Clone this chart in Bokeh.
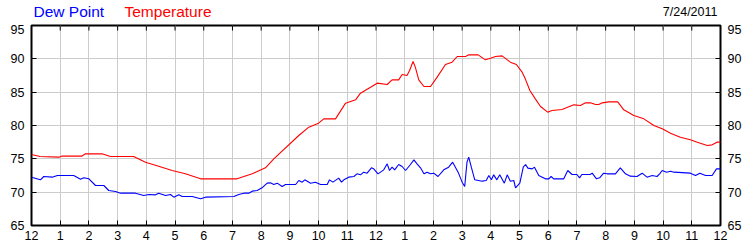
import math
from bokeh.plotting import figure
from bokeh.models import FixedTicker, LinearAxis, Label, ColumnDataSource
from bokeh.layouts import column
from bokeh.embed import file_html
from bokeh.resources import INLINE

# ---- data (hours after midnight, degrees F) ----
temp_hours = [0.0, 0.3, 0.95, 1.05, 1.75, 1.88, 2.46, 2.75, 3.56, 3.97, 4.43, 4.9, 5.36, 5.89,
              7.16, 7.69, 8.15, 8.44, 9.31, 9.66, 10.0, 10.18, 10.59, 10.94, 11.29, 11.46, 11.81,
              12.04, 12.39, 12.56, 12.79, 12.91, 13.08, 13.17, 13.29, 13.37, 13.49, 13.67, 13.9,
              14.13, 14.42, 14.65, 14.83, 15.12, 15.23, 15.56, 15.81, 15.99, 16.16, 16.39, 16.68,
              16.89, 17.09, 17.2, 17.36, 17.55, 17.73, 17.98, 18.13, 18.48, 18.89, 19.12, 19.3,
              19.47, 19.65, 19.76, 19.88, 20.11, 20.42, 20.63, 20.98, 21.33, 21.68, 21.97, 22.26,
              22.6, 22.95, 23.19, 23.54, 23.71, 23.88, 24.0]
temp_values = [75.65, 75.35, 75.25, 75.4, 75.4, 75.75, 75.75, 75.35, 75.35, 74.5, 73.9, 73.25, 72.75, 72.0,
               72.0, 72.75, 73.65, 75.0, 78.5, 79.75, 80.35, 81.0, 81.0, 83.35, 83.85, 84.85, 85.75,
               86.35, 86.15, 86.85, 86.85, 87.65, 87.5, 88.25, 89.6, 88.75, 86.85, 85.85, 85.85,
               87.25, 89.15, 89.5, 90.35, 90.35, 90.6, 90.6, 89.85, 90.1, 90.35, 90.45, 89.5,
               89.15, 88.0, 87.0, 85.25, 84.0, 82.85, 82.0, 82.25, 82.4, 83.1, 83.0, 83.4,
               83.4, 83.15, 83.15, 83.4, 83.55, 83.55, 82.35, 81.5, 81.0, 80.0, 79.5, 78.85,
               78.25, 77.85, 77.5, 77.0, 77.1, 77.5, 77.5]

dew_hours = [0.0, 0.31, 0.43, 0.72, 0.9, 1.47, 1.71, 1.82, 2.0, 2.23, 2.52, 2.69, 2.93, 3.1, 3.62,
             3.91, 4.09, 4.32, 4.43, 4.67, 4.84, 4.96, 5.13, 5.25, 5.6, 5.89, 6.06, 7.05, 7.22, 7.4,
             7.57, 7.69, 7.86, 8.03, 8.21, 8.32, 8.44, 8.56, 8.73, 8.85, 9.2, 9.31, 9.43, 9.52, 9.72,
             9.89, 10.07, 10.3, 10.38, 10.5, 10.7, 10.8, 10.88, 11.05, 11.23, 11.34, 11.46, 11.57,
             11.69, 11.84, 11.92, 12.07, 12.27, 12.39, 12.47, 12.56, 12.65, 12.79, 12.91, 13.03,
             13.2, 13.32, 13.43, 13.55, 13.67, 13.78, 13.9, 14.01, 14.16, 14.36, 14.53, 14.67,
             14.86, 15.0, 15.09, 15.17, 15.23, 15.32, 15.44, 15.7, 15.84, 15.93, 16.02, 16.1,
             16.21, 16.31, 16.47, 16.57, 16.68, 16.8, 16.86, 17.01, 17.13, 17.21, 17.29, 17.44,
             17.52, 17.67, 17.79, 17.9, 18.02, 18.1, 18.19, 18.54, 18.68, 18.83, 19.0, 19.09,
             19.17, 19.46, 19.53, 19.68, 19.79, 19.93, 20.05, 20.34, 20.51, 20.69, 20.86, 21.09,
             21.27, 21.44, 21.62, 21.79, 21.88, 21.97, 22.12, 22.26, 22.38, 22.95, 23.13, 23.28,
             23.48, 23.71, 23.86, 24.0]
dew_values = [72.25, 71.85, 72.35, 72.25, 72.5, 72.5, 71.95, 72.15, 72.0, 71.0, 71.0, 70.25, 70.1, 69.85, 69.85,
              69.5, 69.65, 69.6, 69.85, 69.5, 69.65, 69.25, 69.6, 69.35, 69.35, 69.0, 69.25, 69.35, 69.65, 69.85,
              69.85, 70.15, 70.25, 70.65, 71.35, 71.4, 71.15, 71.35, 70.85, 71.15, 71.15, 71.75, 71.5, 71.85, 71.35,
              71.5, 71.15, 71.15, 71.85, 71.5, 72.1, 71.5, 71.85, 72.25, 72.35, 72.75, 72.6, 73.0,
              72.85, 73.65, 73.5, 72.75, 73.35, 74.25, 73.25, 73.75, 73.35, 74.15, 73.85, 73.25,
              74.15, 74.85, 74.25, 73.65, 72.75, 73.0, 72.75, 72.85, 72.35, 73.35, 73.75, 74.5,
              73.0, 71.5, 70.85, 74.5, 75.25, 73.75, 71.85, 71.65, 71.75, 72.5, 71.85, 72.6,
              71.85, 72.6, 71.35, 72.6, 71.65, 71.75, 70.65, 71.35, 73.75, 74.15, 73.6, 73.5,
              73.75, 72.5, 72.25, 72.0, 72.0, 72.35, 72.0, 72.0, 73.25, 72.65, 72.65, 72.15,
              72.65, 72.65, 72.85, 72.0, 72.15, 72.85, 72.75, 72.75, 73.65, 72.75, 72.4, 72.35,
              72.85, 72.25, 72.5, 72.35, 72.75, 73.25, 73.0, 73.15, 73.0, 72.85, 72.5, 72.85,
              72.5, 72.5, 73.5, 73.5]

hour_ticks = list(range(25))
hour_labels = ["12", "1", "2", "3", "4", "5", "6", "7", "8", "9", "10", "11",
               "12", "1", "2", "3", "4", "5", "6", "7", "8", "9", "10", "11", "12"]
y_ticks = [65, 70, 75, 80, 85, 90, 95]
y_min, y_max = 65, 95
series_names = ["Dew Point", "Temperature"]
date_text = "7/24/2011"

FONT = "Liberation Sans"
LEFT, RIGHT = 31, 30

# ---- header strip with the coloured legend text and the date ----
# its frame spans the same columns as the chart's frame (page pixels 31..720)
head = figure(width=750, height=24, x_range=(LEFT, 750 - RIGHT), y_range=(24, 0),
              output_backend="svg", toolbar_location=None,
              x_axis_location=None, y_axis_location=None,
              min_border_left=LEFT, min_border_right=RIGHT, min_border_top=0, min_border_bottom=0,
              background_fill_color="white", border_fill_color="white")
head.grid.visible = False
head.outline_line_color = None
head.add_layout(Label(x=33, y=11, text=series_names[0], text_color="#0000ff",
                      text_font=FONT, text_font_size="15.5px", text_baseline="alphabetic"))
head.add_layout(Label(x=124, y=11, text=series_names[1], text_color="#ff0000",
                      text_font=FONT, text_font_size="15.5px", text_baseline="alphabetic"))
head.add_layout(Label(x=717, y=11, text=date_text, text_color="black", text_align="right",
                      text_font=FONT, text_font_size="12.5px", text_baseline="alphabetic"))

# ---- main chart ----
p = figure(width=750, height=226, x_range=(0, 24), y_range=(y_min, y_max),
           output_backend="svg", toolbar_location=None,
           min_border_left=LEFT, min_border_right=RIGHT, min_border_top=1, min_border_bottom=25,
           background_fill_color="white", border_fill_color="white")
p.outline_line_color = "black"
p.outline_line_width = 2
p.outline_line_alpha = 1.0

xt = FixedTicker(ticks=hour_ticks)
yt = FixedTicker(ticks=y_ticks)

p.xgrid.ticker = xt
p.ygrid.ticker = yt
p.xgrid.grid_line_color = "#cccccc"
p.ygrid.grid_line_color = "#cccccc"

overrides = {t: lab for t, lab in zip(hour_ticks, hour_labels)}

def style(ax):
    ax.axis_line_color = None
    ax.major_tick_in = 5
    ax.major_tick_out = 0
    ax.minor_tick_line_color = None
    ax.major_tick_line_color = "black"
    ax.major_tick_line_width = 1
    ax.major_label_text_font = FONT
    ax.major_label_text_font_size = "12.5px"
    ax.major_label_text_color = "black"

bx = p.xaxis[0]
bx.ticker = xt
bx.major_label_overrides = overrides
bx.major_label_standoff = 5
style(bx)

ly = p.yaxis[0]
ly.ticker = yt
ly.major_label_standoff = 7
style(ly)

ry = LinearAxis(ticker=yt)
style(ry)
ry.major_label_standoff = 7
p.add_layout(ry, "right")

# inward tick marks hanging from the top edge
p.ray(x=hour_ticks, y=[y_max] * len(hour_ticks), length=5, length_units="screen",
      angle=-math.pi / 2, line_color="black", line_width=1)

dew_src = ColumnDataSource(dict(x=dew_hours, y=dew_values))
temp_src = ColumnDataSource(dict(x=temp_hours, y=temp_values))
p.line("x", "y", source=dew_src, line_color="#0000ff", line_width=1.1)
p.line("x", "y", source=temp_src, line_color="#ff0000", line_width=1.1)

layout = column(head, p, spacing=0)
open("out.html", "w").write(file_html(layout, INLINE))
